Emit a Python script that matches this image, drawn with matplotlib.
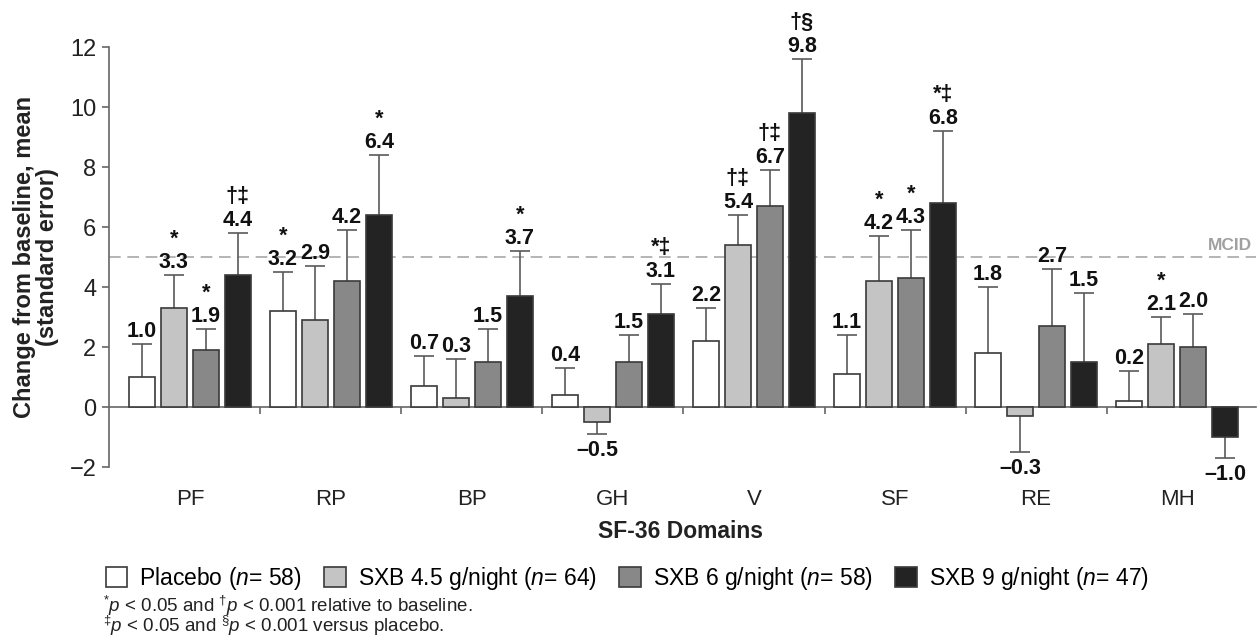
import numpy as np
import matplotlib
matplotlib.use('Agg')
import matplotlib.pyplot as plt

plt.rcParams['font.family'] = ['Liberation Sans', 'DejaVu Sans']
plt.rcParams['mathtext.fontset'] = 'custom'
plt.rcParams['mathtext.rm'] = 'Liberation Sans'
plt.rcParams['mathtext.it'] = 'Liberation Sans:italic'
plt.rcParams['mathtext.bf'] = 'Liberation Sans:bold'

# Data
domains = ['PF', 'RP', 'BP', 'GH', 'V', 'SF', 'RE', 'MH']
series_names = [r'Placebo ($\mathit{n}$= 58)', r'SXB 4.5 g/night ($\mathit{n}$= 64)',
                r'SXB 6 g/night ($\mathit{n}$= 58)', r'SXB 9 g/night ($\mathit{n}$= 47)']

placebo = [1.0, 3.2, 0.7, 0.4, 2.2, 1.1, 1.8, 0.2]
sxb45 = [3.3, 2.9, 0.3, -0.5, 5.4, 4.2, -0.3, 2.1]
sxb6 = [1.9, 4.2, 1.5, 1.5, 6.7, 4.3, 2.7, 2.0]
sxb9 = [4.4, 6.4, 3.7, 3.1, 9.8, 6.8, 1.5, -1.0]

placebo_se = [1.1, 1.3, 1.0, 0.9, 1.1, 1.3, 2.2, 1.0]
sxb45_se = [1.1, 1.8, 1.3, 0.4, 1.0, 1.5, 1.2, 0.9]
sxb6_se = [0.7, 1.7, 1.1, 0.9, 1.2, 1.6, 1.9, 1.1]
sxb9_se = [1.4, 2.0, 1.5, 1.0, 1.8, 2.4, 2.3, 0.7]

placebo_sig = ['', '*', '', '', '', '', '', '']
sxb45_sig = ['*', '', '', '', '†‡', '*', '', '*']
sxb6_sig = ['*', '', '', '', '†‡', '*', '', '']
sxb9_sig = ['†‡', '*', '*', '*‡', '†§', '*‡', '', '']

mcid = 5

footnotes = ['$^{*}\\mathit{p}$ < 0.05 and $^{†}\\mathit{p}$ < 0.001 relative to baseline.',
             '$^{‡}\\mathit{p}$ < 0.05 and $^{§}\\mathit{p}$ < 0.001 versus placebo.']

values = [placebo, sxb45, sxb6, sxb9]
errors = [placebo_se, sxb45_se, sxb6_se, sxb9_se]
sigs = [placebo_sig, sxb45_sig, sxb6_sig, sxb9_sig]
colors = ['white', '#c4c4c4', '#888888', '#232323']

fig = plt.figure(figsize=(12.6, 6.38), dpi=100)
ax = fig.add_axes([109 / 1260, 1 - 467 / 638, (1256 - 109) / 1260, 420 / 638])

x = np.arange(len(domains))
pitch = 0.227
width = 0.19
cap = 0.07

bars = []
for i in range(4):
    xs = x + (i - 1.5) * pitch
    vals = np.array(values[i])
    se = np.array(errors[i])
    b = ax.bar(xs, vals, width, color=colors[i], edgecolor='#3a3a3a', linewidth=1.2, zorder=3,
               label=series_names[i])
    bars.append(b)

    # one-sided error bars
    tips = np.where(vals >= 0, vals + se, vals - se)
    ax.vlines(xs, vals, tips, color='#5a5a5a', linewidth=1.2, zorder=2)
    ax.hlines(tips, xs - cap, xs + cap, color='#5a5a5a', linewidth=1.2, zorder=2)

    # value labels and significance marks
    for xx, v, t, s in zip(xs, vals, tips, sigs[i]):
        txt = f'{v:.1f}'.replace('-', '\u2013')
        if v >= 0:
            ax.annotate(txt, (xx, t), xytext=(0, 1.5), textcoords='offset points',
                        ha='center', va='bottom', fontsize=15.5, fontweight='bold', color='#111111')
            if s:
                ax.annotate(s, (xx, t), xytext=(0, 18.5), textcoords='offset points',
                            ha='center', va='bottom', fontsize=15.5, fontweight='bold', color='#111111')
        else:
            ax.annotate(txt, (xx, t), xytext=(0, -4.5), textcoords='offset points',
                        ha='center', va='top', fontsize=15.5, fontweight='bold', color='#111111')

# MCID reference line
ax.axhline(mcid, color='#a8a8a8', linestyle=(0, (7, 4)), linewidth=1.2, zorder=1)
ax.text(7.53, mcid + 0.15, 'MCID', ha='right', va='bottom',
        fontsize=12.5, fontweight='bold', color='#a0a0a0')

# axes styling
ax.set_xlim(-0.574, 7.56)
ax.set_ylim(-2, 12)
ax.set_yticks(np.arange(-2, 13, 2))
ax.spines['top'].set_visible(False)
ax.spines['right'].set_visible(False)
ax.spines['left'].set_color('#666666')
ax.spines['left'].set_linewidth(1.2)
ax.spines['bottom'].set_position(('data', 0))
ax.spines['bottom'].set_color('#666666')
ax.spines['bottom'].set_linewidth(1.2)
ax.tick_params(axis='y', length=5, width=1.2, color='#666666', labelsize=17, pad=4, labelcolor='#222222')
ax.set_xticks(x)
ax.set_xticklabels(domains)
ax.tick_params(axis='x', which='major', length=0, labelsize=16, pad=59, labelcolor='#222222')
ax.set_xticks(x[:-1] + 0.5, minor=True)
ax.tick_params(axis='x', which='minor', length=5, width=1.2, color='#666666', direction='out')

fig.text(681 / 1260, 1 - 532 / 638, 'SF-36 Domains', ha='center', va='center',
         fontsize=16.5, fontweight='bold', color='#222222')
fig.text(36 / 1260, 1 - 257 / 638, 'Change from baseline, mean\n(standard error)', ha='center',
         va='center', rotation=90, fontsize=17, fontweight='bold', color='#222222',
         multialignment='center', linespacing=0.95)

# legend and footnotes
fig.legend(handles=bars, loc='center', bbox_to_anchor=(627 / 1260, 1 - 578 / 638), ncol=4,
           frameon=False, fontsize=16.5, handlelength=0.95, handleheight=0.95, handletextpad=0.5,
           columnspacing=1.0, borderpad=0)
fig.text(103 / 1260, 1 - 616 / 638, '\n'.join(footnotes),
         ha='left', va='center', fontsize=13.5, color='#222222', linespacing=0.8)

plt.savefig('out.png', dpi=100)
